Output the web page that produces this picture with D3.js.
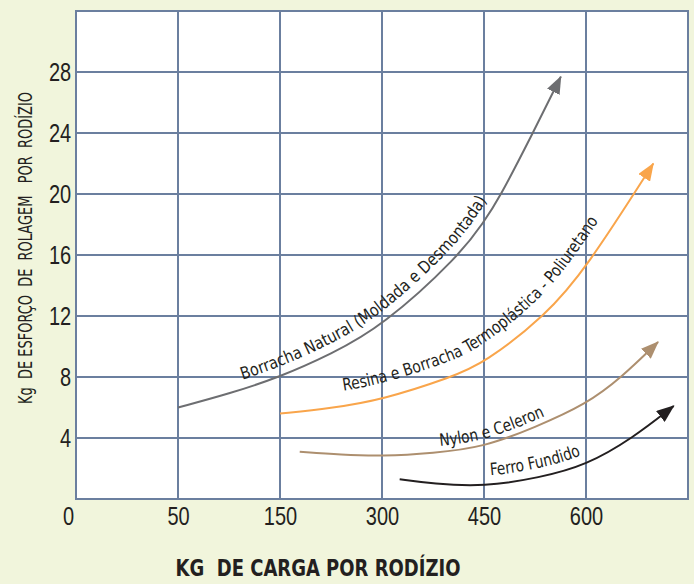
<!DOCTYPE html>
<html>
<head>
<meta charset="utf-8">
<script src="https://cdn.jsdelivr.net/npm/d3@7"></script>
<style>
  body { margin: 0; background: #f1f5dc; }
  svg { display: block; font-family: "Liberation Sans Narrow", "DejaVu Sans Condensed", "Arial Narrow", sans-serif; }
</style>
</head>
<body>
<div id="chart"></div>
<script>
// tick values (the load axis is not linear: equal spacing between labels)
const loadTicks = [0, 50, 150, 300, 450, 600];
const loadBreaks = [0, 50, 150, 300, 450, 600, 750];
const effortTicks = [4, 8, 12, 16, 20, 24, 28];
const effortMax = 32;

// curves: [kg de carga, kg de esforço]
const borracha = [[50, 6.0], [100, 6.9], [150, 8.0], [225, 9.5], [300, 11.3], [415, 16.0], [450, 18.2], [471, 19.6], [522, 24.0], [563, 27.7]];
const resina = [[150, 5.6], [225, 5.95], [300, 6.5], [403, 8.0], [450, 8.9], [540, 12.0], [600, 15.1], [699, 22.0]];
const nylon = [[179, 3.1], [240, 2.9], [300, 2.8], [375, 3.0], [450, 3.4], [525, 4.7], [600, 6.2], [653, 8.0], [706, 10.3]];
const ferro = [[326, 1.3], [375, 1.0], [450, 0.8], [532, 1.4], [600, 2.2], [669, 4.0], [729, 6.1]];

const seriesNames = ["Borracha Natural  (Moldada e Desmontada)", "Resina e Borracha Termoplástica - Poliuretano", "Nylon e Celeron", "Ferro Fundido"];
const seriesData = [borracha, resina, nylon, ferro];
const seriesColors = ["#6d6e71", "#f9a54b", "#ad8f6f", "#231f20"];
const labelStartKg = [113, 243, 385, 459];
const labelOffset = [9, 15, 6, 9];
const labelLength = [310, 318, 110, 93];

const width = 694, height = 584;
const margin = {top: 11, right: 6, bottom: 85, left: 76};
const gridColor = "#6b7f9f";

const svg = d3.select("#chart").append("svg")
    .attr("width", width)
    .attr("height", height);

const x0 = margin.left, x1 = width - margin.right;
const step = (x1 - x0) / (loadBreaks.length - 1);
const x = d3.scaleLinear()
    .domain(loadBreaks)
    .range(loadBreaks.map((d, i) => x0 + i * step));
const y = d3.scaleLinear()
    .domain([0, effortMax])
    .range([height - margin.bottom, margin.top]);

// plot area
svg.append("rect")
    .attr("x", x0).attr("y", y(effortMax))
    .attr("width", x1 - x0).attr("height", y(0) - y(effortMax))
    .attr("fill", "#fff");

const grid = svg.append("g")
    .attr("stroke", gridColor)
    .attr("stroke-width", 2);

grid.selectAll(".v")
    .data(loadBreaks.slice(1, -1))
    .enter().append("line")
    .attr("x1", d => x(d)).attr("x2", d => x(d))
    .attr("y1", y(0)).attr("y2", y(effortMax));

grid.selectAll(".h")
    .data(effortTicks)
    .enter().append("line")
    .attr("x1", x0).attr("x2", x1)
    .attr("y1", d => y(d)).attr("y2", d => y(d));

grid.append("rect")
    .attr("x", x0).attr("y", y(effortMax))
    .attr("width", x1 - x0).attr("height", y(0) - y(effortMax))
    .attr("fill", "none");

// axes
const yAxis = svg.append("g")
    .attr("transform", `translate(${x0},0)`)
    .call(d3.axisLeft(y).tickValues(effortTicks).tickSize(0).tickPadding(6));
const xAxis = svg.append("g")
    .attr("transform", `translate(0,${y(0)})`)
    .call(d3.axisBottom(x).tickValues(loadTicks).tickSize(0).tickPadding(8));

[yAxis, xAxis].forEach(a => {
    a.select(".domain").remove();
    a.selectAll("text")
        .attr("font-family", null)
        .attr("font-size", 25)
        .attr("fill", "#231f20")
        .attr("transform", "scale(0.8,1)");
});
xAxis.selectAll(".tick")
    .filter(d => d === 0)
    .select("text")
    .attr("dx", -10);

// curves with arrow heads
const defs = svg.append("defs");
seriesColors.forEach((c, i) => {
    defs.append("marker")
        .attr("id", "arrow" + i)
        .attr("viewBox", "0 -7 18 14")
        .attr("refX", 17)
        .attr("refY", 0)
        .attr("markerWidth", 18)
        .attr("markerHeight", 14)
        .attr("markerUnits", "userSpaceOnUse")
        .attr("orient", "auto")
        .append("path")
        .attr("d", "M0,-7L18,0L0,7Z")
        .attr("fill", c);
});

const line = d3.line()
    .x(d => x(d[0]))
    .y(d => y(d[1]))
    .curve(d3.curveBasis);

const curves = svg.append("g");
seriesData.forEach((data, i) => {
    const path = curves.append("path")
        .attr("d", line(data))
        .attr("fill", "none")
        .attr("stroke", seriesColors[i])
        .attr("stroke-width", 2)
        .attr("marker-end", `url(#arrow${i})`);

    // label path: the curve pushed up along its normal
    const node = path.node();
    const len = node.getTotalLength();
    const pts = [];
    const n = 200;
    for (let k = 0; k <= n; k++) {
        const a = node.getPointAtLength(len * k / n);
        const b = node.getPointAtLength(Math.min(len, len * k / n + 1));
        const a0 = node.getPointAtLength(Math.max(0, len * k / n - 1));
        let dx = b.x - a0.x, dy = b.y - a0.y;
        const m = Math.hypot(dx, dy) || 1;
        dx /= m; dy /= m;
        pts.push([a.x + dy * labelOffset[i], a.y - dx * labelOffset[i]]);
    }
    const lp = defs.append("path")
        .attr("id", "lbl" + i)
        .attr("d", d3.line()(pts));
    const lnode = lp.node();
    const startX = x(labelStartKg[i]);
    let start = 0;
    const ll = lnode.getTotalLength();
    for (let s = 0; s < ll; s += 0.5) {
        if (lnode.getPointAtLength(s).x >= startX) { start = s; break; }
    }
    svg.append("text")
        .attr("font-size", 17)
        .attr("fill", "#231f20")
        .attr("textLength", labelLength[i])
        .attr("lengthAdjust", "spacingAndGlyphs")
        .append("textPath")
        .attr("href", "#lbl" + i)
        .attr("startOffset", start)
        .attr("textLength", labelLength[i])
        .attr("lengthAdjust", "spacingAndGlyphs")
        .text(seriesNames[i]);
});

// titles
svg.append("text")
    .attr("transform", "translate(32,248) rotate(-90)")
    .attr("text-anchor", "middle")
    .attr("font-size", 19)
    .attr("fill", "#231f20")
    .attr("xml:space", "preserve")
    .attr("textLength", 312)
    .attr("lengthAdjust", "spacingAndGlyphs")
    .text("Kg  DE ESFORÇO  DE  ROLAGEM   POR  RODÍZIO");

svg.append("text")
    .attr("x", 318)
    .attr("y", 576)
    .attr("text-anchor", "middle")
    .attr("font-size", 23)
    .attr("font-weight", "bold")
    .attr("fill", "#231f20")
    .attr("xml:space", "preserve")
    .attr("textLength", 285)
    .attr("lengthAdjust", "spacingAndGlyphs")
    .text("KG  DE CARGA POR RODÍZIO");
</script>
</body>
</html>
